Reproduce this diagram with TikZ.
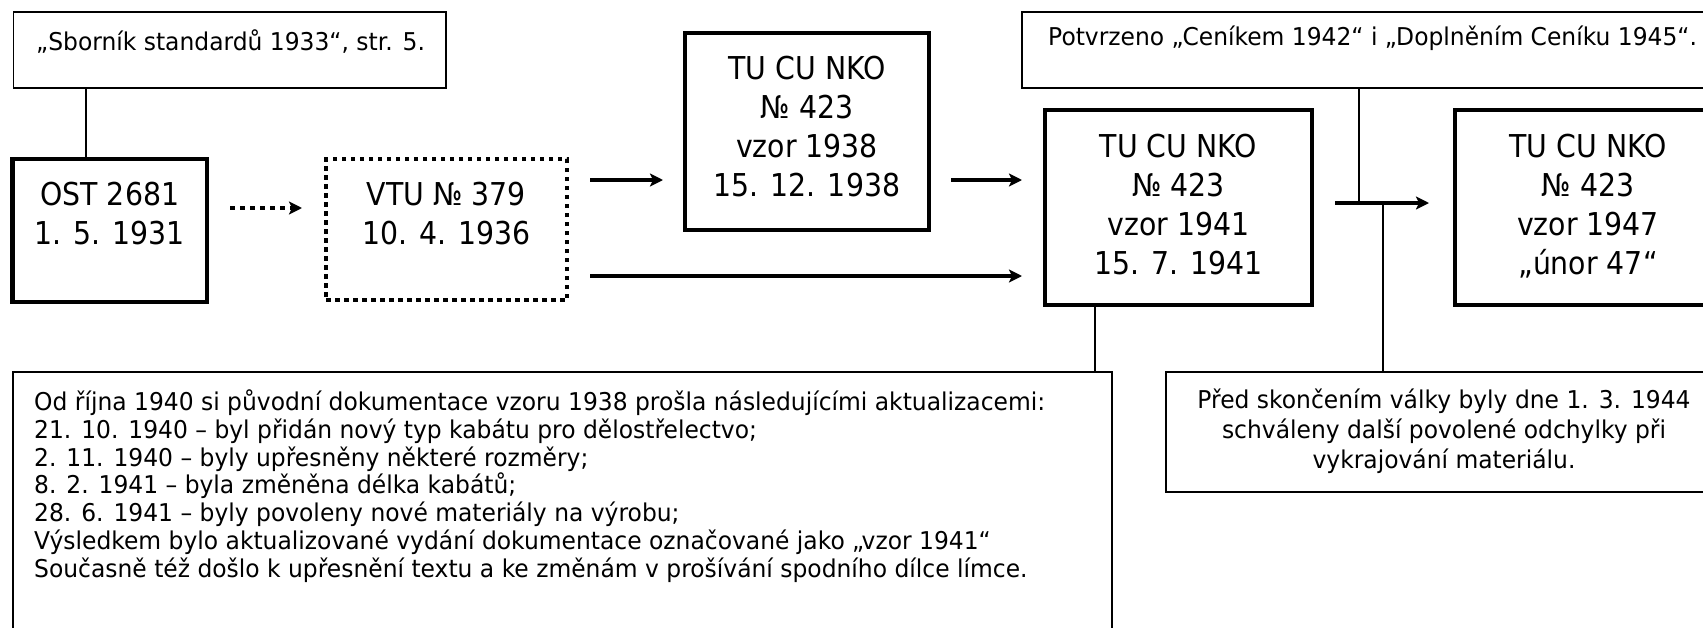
\documentclass[tikz,border=0pt]{standalone}
\usepackage{fontspec}
\setmainfont[FakeStretch=0.9]{DejaVu Sans}
\newfontfamily\smallfam[FakeStretch=0.955]{DejaVu Sans}
\usetikzlibrary{arrows.meta}
\begin{document}
\begin{tikzpicture}[x=1pt,y=-1pt,
  thinbox/.style={draw, line width=1.5pt, inner sep=0pt},
  thickbox/.style={draw, line width=4.5pt, inner sep=0pt},
  dotbox/.style={draw, line width=4.5pt, dash pattern=on 4.5pt off 4.5pt, inner sep=0pt},
  bigtext/.style={font=\fontsize{31.5}{39}\selectfont, align=center, inner sep=0pt, anchor=north},
  smalltext/.style={font=\smallfam\fontsize{24.5}{30}\selectfont, inner sep=0pt},
  notetext/.style={font=\smallfam\fontsize{24.5}{27.8}\selectfont, inner sep=0pt, align=left, anchor=north west},
  predtext/.style={font=\smallfam\fontsize{24.5}{30}\selectfont, inner sep=0pt, align=center, anchor=north},
  arr/.style={line width=4.2pt, -{Stealth[length=13pt,width=13pt,inset=3pt]}},
  dotarr/.style={line width=4.2pt, dash pattern=on 5pt off 5pt, -{Stealth[length=13pt,width=13pt,inset=3pt]}},
  thinline/.style={line width=1.5pt}]
\clip (0,0) rectangle (1703,627);
% boxes
\node[thinbox, minimum width=432.4pt, minimum height=76pt] (src) at (229.8,50) {};
\node[thickbox, minimum width=194.5pt, minimum height=143pt] (ost) at (109.75,230.5) {};
\node[dotbox, minimum width=241pt, minimum height=141pt] (vtu) at (446.5,229.5) {};
\node[thickbox, minimum width=244pt, minimum height=197pt] (n38) at (807,131.5) {};
\node[thickbox, minimum width=267pt, minimum height=195pt] (n41) at (1178.5,207.5) {};
\node[thickbox, minimum width=266pt, minimum height=195pt] (n47) at (1588,207.5) {};
\node[thinbox, minimum width=718pt, minimum height=76pt] (pot) at (1381,50) {};
\node[thinbox, minimum width=556pt, minimum height=120pt] (pred) at (1444,432) {};
\node[thinbox, minimum width=1099pt, minimum height=268pt] (note) at (562.5,506) {};
% texts
\node[smalltext, anchor=west] (srct) at (36,42) {„Sborník standardů 1933“, str. 5.};
\node[smalltext, anchor=west] (pott) at (1048,38) {Potvrzeno „Ceníkem 1942“ i „Doplněním Ceníku 1945“.};
\node[bigtext] (ostt) at (109.75,181.5) {OST 2681\\1. 5. 1931};
\node[bigtext] (vtut) at (446.5,181.5) {VTU № 379\\10. 4. 1936};
\node[bigtext] (n38t) at (807,55.5) {TU CU NKO\\№ 423\\vzor 1938\\15. 12. 1938};
\node[bigtext] (n41t) at (1178.5,133.5) {TU CU NKO\\№ 423\\vzor 1941\\15. 7. 1941};
\node[bigtext] (n47t) at (1588,133.5) {TU CU NKO\\№ 423\\vzor 1947\\„únor 47“};
\node[predtext] (predt) at (1444,388.5) {Před skončením války byly dne 1. 3. 1944\\schváleny další povolené odchylky při\\vykrajování materiálu.};
\node[notetext] (notet) at (34,389.5) {Od října 1940 si původní dokumentace vzoru 1938 prošla následujícími aktualizacemi:\\
21. 10. 1940 – byl přidán nový typ kabátu pro dělostřelectvo;\\
2. 11. 1940 – byly upřesněny některé rozměry;\\
8. 2. 1941 – byla změněna délka kabátů;\\
28. 6. 1941 – byly povoleny nové materiály na výrobu;\\
Výsledkem bylo aktualizované vydání dokumentace označované jako „vzor 1941“\\
Současně též došlo k upřesnění textu a ke změnám v prošívání spodního dílce límce.};
% free connector ends
\coordinate (d1) at (230,208);
\coordinate (d2) at (302,208);
\coordinate (a1) at (590,180);
\coordinate (a2) at (663,180);
\coordinate (a3) at (951,180);
\coordinate (a4) at (1022,180);
\coordinate (l1) at (590,276);
\coordinate (l2) at (1022,276);
\coordinate (h1) at (1335,203);
\coordinate (h2) at (1429,203);
\coordinate (xsrc) at (86,0);
\coordinate (xpot) at (1359,0);
\coordinate (xpred) at (1383,0);
\coordinate (xn41) at (1095,0);
% connectors
\draw[thinline] (xsrc |- src.south) -- (xsrc |- ost.north);
\draw[dotarr] (d1) -- (d2);
\draw[arr] (a1) -- (a2);
\draw[arr] (a3) -- (a4);
\draw[arr] (l1) -- (l2);
\draw[thinline] (xpot |- pot.south) -- (xpot |- h1);
\draw[arr] (h1) -- (h2);
\draw[thinline] (xpred |- h1) -- (xpred |- pred.north);
\draw[thinline] (xn41 |- n41.south) -- (xn41 |- note.north);
\end{tikzpicture}
\end{document}
